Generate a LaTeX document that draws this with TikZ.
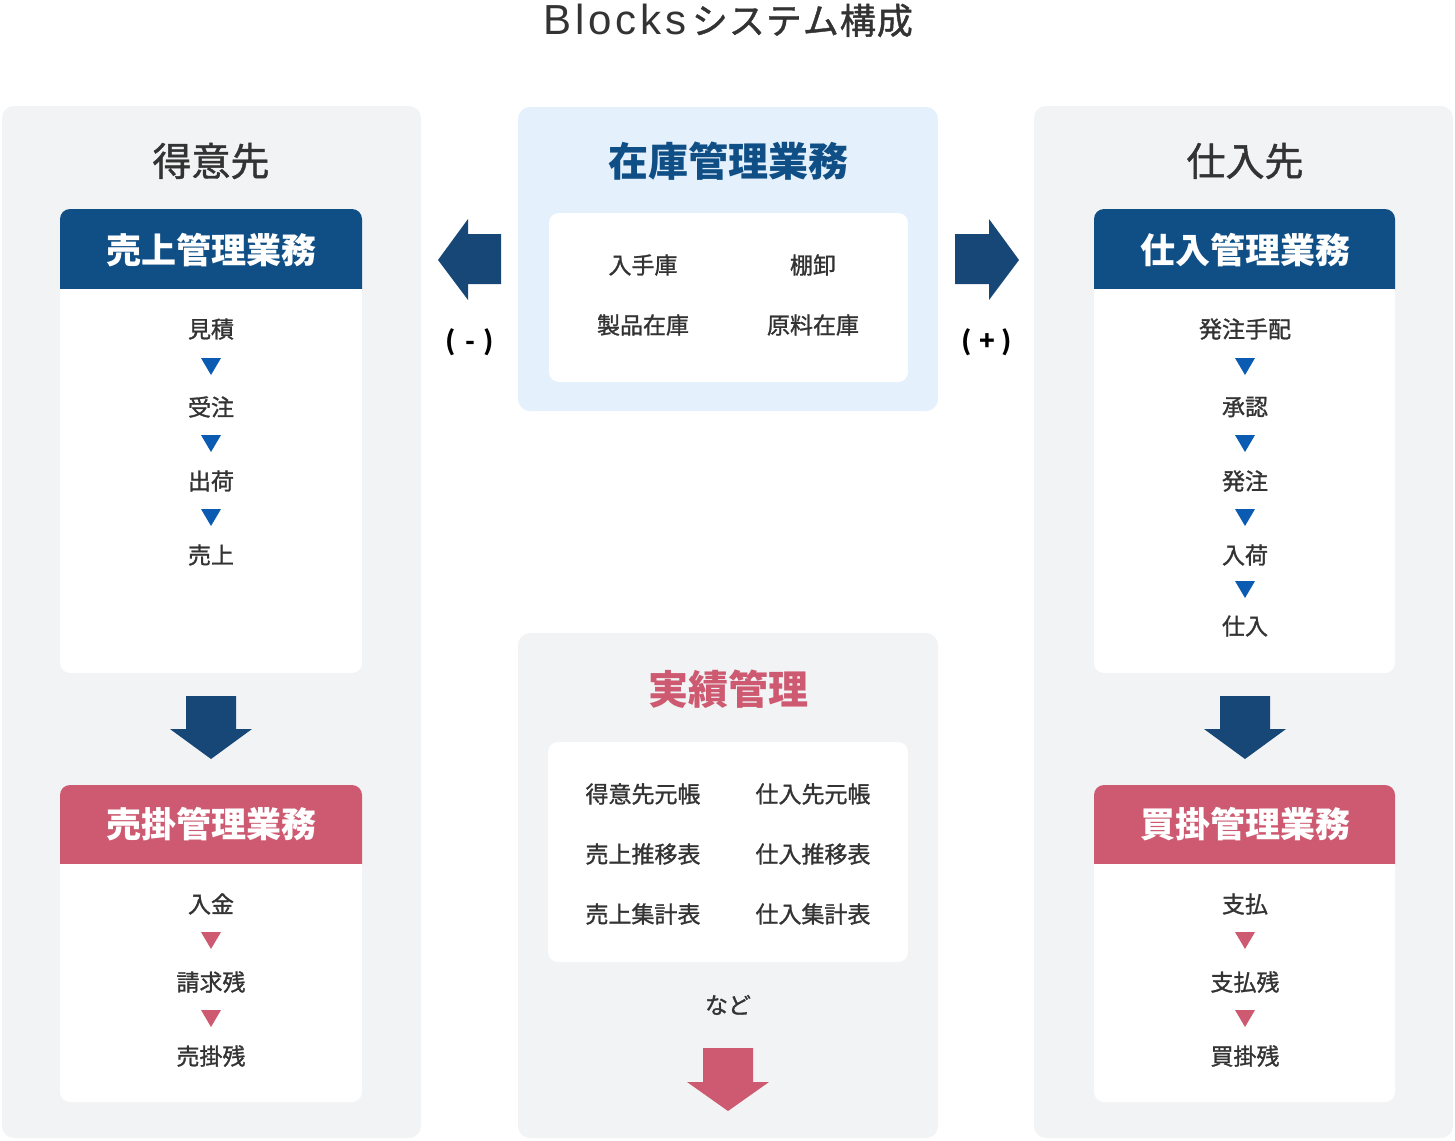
\documentclass[tikz,border=0pt]{standalone}
\usepackage{fontspec}
\setmainfont{Noto Sans CJK JP}
\newfontfamily\jpmed[FakeBold=1.2]{Noto Sans CJK JP}
\newfontfamily\latinfont{Liberation Sans}
\definecolor{hdrblue}{HTML}{0F4F86}
\definecolor{arrblue}{HTML}{164777}
\definecolor{triblue}{HTML}{0A5BB1}
\definecolor{pinkc}{HTML}{CD5A71}
\definecolor{panelgray}{HTML}{F2F3F5}
\definecolor{panelblue}{HTML}{E4F0FC}
\definecolor{textgray}{HTML}{333333}
\tikzset{
  txt/.style={font=\fontsize{23bp}{28bp}\selectfont\jpmed, text=textgray, inner sep=0pt},
  hdr/.style={font=\fontsize{35bp}{40bp}\selectfont\bfseries, text=white, inner sep=0pt},
  ttl/.style={font=\fontsize{39bp}{44bp}\selectfont\jpmed, text=textgray, inner sep=0pt},
  sign/.style={font=\fontsize{26bp}{30bp}\selectfont\bfseries, text=black, inner sep=0pt},
}
\newcommand\tridown[3]{\fill[#3] ({#1-10},{#2-8}) -- ({#1+10},{#2-8}) -- (#1,{#2+9}) -- cycle;}
\newcommand\bigdown[3]{\fill[#3] ({#1-25},#2) -- ({#1+25},#2) -- ({#1+25},{#2+33}) -- ({#1+41},{#2+33}) -- (#1,{#2+63}) -- ({#1-41},{#2+33}) -- ({#1-25},{#2+33}) -- cycle;}
\newcommand\card[6]{% x1,y1,x2,ymid,y2,color
  \begin{scope}
    \clip (#1,#2) rectangle (#3,#4);
    \fill[#6, rounded corners=10bp] (#1,#2) rectangle (#3,{#4+20});
  \end{scope}
  \begin{scope}
    \clip (#1,#4) rectangle (#3,#5);
    \fill[white, rounded corners=10bp] (#1,{#4-20}) rectangle (#3,#5);
  \end{scope}
}
\begin{document}
\begin{tikzpicture}[x=1bp,y=-1bp]
\useasboundingbox (0,0) rectangle (1455,1140);
% title
\node[font=\fontsize{36bp}{40bp}\selectfont\jpmed, text=textgray, inner sep=0pt, anchor=base] (title) at (728,34)
  {{\latinfont\fontsize{42bp}{46bp}\selectfont B\kern4bp l\kern4bp o\kern4bp c\kern4bp k\kern4bp s}\kern5bp シ\kern1bp ス\kern1bp テ\kern1bp ム\kern1bp 構\kern1bp 成};

% panels
\fill[panelgray, rounded corners=12bp] (2,106) rectangle (421,1138);
\fill[panelgray, rounded corners=12bp] (1034,106) rectangle (1453,1138);
\fill[panelblue, rounded corners=12bp] (518,107) rectangle (938,411);
\fill[white, rounded corners=10bp] (549,213) rectangle (908,382);
\fill[panelgray, rounded corners=12bp] (518,633) rectangle (938,1138);
\fill[white, rounded corners=10bp] (548,742) rectangle (908,962);

% left column
\node[ttl] (tokuisaki) at (211,161) {得意先};
\card{60}{209}{362}{289}{673}{hdrblue}
\node[hdr] (uriage) at (211,250) {売上管理業務};
\node[txt] (s1) at (211,329) {見積};
\tridown{211}{366}{triblue}
\node[txt] (s2) at (211,407) {受注};
\tridown{211}{443}{triblue}
\node[txt] (s3) at (211,481) {出荷};
\tridown{211}{517}{triblue}
\node[txt] (s4) at (211,555) {売上};
\bigdown{211}{696}{arrblue}
\card{60}{785}{362}{864}{1102}{pinkc}
\node[hdr] (urikake) at (211,824) {売掛管理業務};
\node[txt] (p1) at (211,904) {入金};
\tridown{211}{940}{pinkc}
\node[txt] (p2) at (211,982) {請求残};
\tridown{211}{1018}{pinkc}
\node[txt] (p3) at (211,1056) {売掛残};

% right column
\node[ttl] (shiiresaki) at (1245,161) {仕入先};
\card{1094}{209}{1395}{289}{673}{hdrblue}
\node[hdr] (shiire) at (1245,250) {仕入管理業務};
\node[txt] (r1) at (1245,329) {発注手配};
\tridown{1245}{366}{triblue}
\node[txt] (r2) at (1245,407) {承認};
\tridown{1245}{443}{triblue}
\node[txt] (r3) at (1245,481) {発注};
\tridown{1245}{517}{triblue}
\node[txt] (r4) at (1245,555) {入荷};
\tridown{1245}{589}{triblue}
\node[txt] (r5) at (1245,626) {仕入};
\bigdown{1245}{696}{arrblue}
\card{1094}{785}{1395}{864}{1102}{pinkc}
\node[hdr] (kaikake) at (1245,824) {買掛管理業務};
\node[txt] (q1) at (1245,904) {支払};
\tridown{1245}{940}{pinkc}
\node[txt] (q2) at (1245,982) {支払残};
\tridown{1245}{1018}{pinkc}
\node[txt] (q3) at (1245,1056) {買掛残};

% middle top
\node[ttl, text=hdrblue, font=\fontsize{40bp}{44bp}\selectfont\bfseries] (zaiko) at (728,161) {在庫管理業務};
\node[txt] (z1) at (643,265) {入手庫};
\node[txt] (z2) at (813,265) {棚卸};
\node[txt] (z3) at (643,325) {製品在庫};
\node[txt] (z4) at (813,325) {原料在庫};

% side arrows
\fill[arrblue] (501,234) -- (468,234) -- (468,219) -- (438,260) -- (468,300) -- (468,284) -- (501,284) -- cycle;
\fill[arrblue] (955,234) -- (989,234) -- (989,219) -- (1019,260) -- (989,300) -- (989,284) -- (955,284) -- cycle;
\node[sign] (minus) at (470,342) {(\kern9bp-\kern9bp)};
\node[sign] (plus) at (987,342) {(\kern7bp+\kern7bp)};

% middle bottom
\node[ttl, text=pinkc, font=\fontsize{40bp}{44bp}\selectfont\bfseries] (jisseki) at (728,689) {実績管理};
\node[txt] (j1) at (643,794) {得意先元帳};
\node[txt] (j2) at (813,794) {仕入先元帳};
\node[txt] (j3) at (643,854) {売上推移表};
\node[txt] (j4) at (813,854) {仕入推移表};
\node[txt] (j5) at (643,914) {売上集計表};
\node[txt] (j6) at (813,914) {仕入集計表};
\node[txt] (nado) at (728,1005) {など};
\fill[pinkc] (703,1048) -- (753,1048) -- (753,1082) -- (769,1082) -- (728,1111) -- (687,1082) -- (703,1082) -- cycle;
\end{tikzpicture}
\end{document}
